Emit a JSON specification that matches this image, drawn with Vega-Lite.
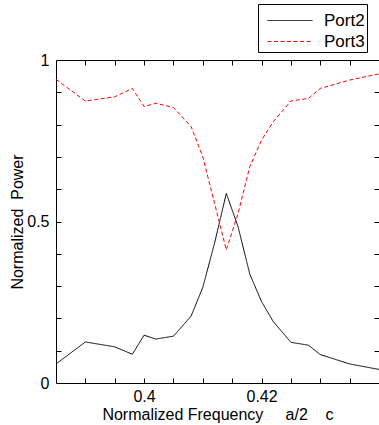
{
  "$schema": "https://vega.github.io/schema/vega-lite/v6.json",
  "width": 323,
  "height": 323,
  "autosize": {"type": "none"},
  "padding": {"left": 56, "top": 60, "right": 0, "bottom": 42},
  "background": "white",
  "config": {
    "view": {"stroke": "black", "strokeWidth": 1},
    "font": "Liberation Sans",
    "axis": {
      "grid": false,
      "domain": false,
      "labelFont": "Liberation Sans",
      "titleFont": "Liberation Sans",
      "labelFontSize": 16,
      "titleFontSize": 16,
      "labelColor": "black",
      "titleColor": "black",
      "titleFontWeight": "normal",
      "tickColor": "black",
      "tickWidth": 1
    },
    "legend": {
      "orient": "none",
      "legendX": 202,
      "legendY": -56,
      "strokeColor": "black",
      "fillColor": "white",
      "padding": 2,
      "rowPadding": 3,
      "symbolType": "M-0.125,0H5.5",
      "symbolSize": 256,
      "symbolStrokeWidth": 1,
      "labelOffset": 47,
      "labelFont": "Liberation Sans",
      "labelFontSize": 17,
      "labelColor": "black",
      "titleFontSize": 5,
      "titlePadding": 1
    }
  },
  "data": {
    "values": [
      {"f": 0.385, "p": 0.059, "s": "Port2"},
      {"f": 0.39, "p": 0.127, "s": "Port2"},
      {"f": 0.395, "p": 0.112, "s": "Port2"},
      {"f": 0.398, "p": 0.089, "s": "Port2"},
      {"f": 0.4, "p": 0.148, "s": "Port2"},
      {"f": 0.402, "p": 0.136, "s": "Port2"},
      {"f": 0.405, "p": 0.145, "s": "Port2"},
      {"f": 0.408, "p": 0.207, "s": "Port2"},
      {"f": 0.41, "p": 0.296, "s": "Port2"},
      {"f": 0.412, "p": 0.433, "s": "Port2"},
      {"f": 0.414, "p": 0.587, "s": "Port2"},
      {"f": 0.416, "p": 0.484, "s": "Port2"},
      {"f": 0.418, "p": 0.337, "s": "Port2"},
      {"f": 0.42, "p": 0.252, "s": "Port2"},
      {"f": 0.422, "p": 0.19, "s": "Port2"},
      {"f": 0.425, "p": 0.126, "s": "Port2"},
      {"f": 0.428, "p": 0.117, "s": "Port2"},
      {"f": 0.43, "p": 0.088, "s": "Port2"},
      {"f": 0.435, "p": 0.059, "s": "Port2"},
      {"f": 0.44, "p": 0.042, "s": "Port2"},
      {"f": 0.385, "p": 0.94, "s": "Port3"},
      {"f": 0.39, "p": 0.873, "s": "Port3"},
      {"f": 0.395, "p": 0.886, "s": "Port3"},
      {"f": 0.398, "p": 0.912, "s": "Port3"},
      {"f": 0.4, "p": 0.856, "s": "Port3"},
      {"f": 0.402, "p": 0.866, "s": "Port3"},
      {"f": 0.405, "p": 0.853, "s": "Port3"},
      {"f": 0.408, "p": 0.794, "s": "Port3"},
      {"f": 0.41, "p": 0.7, "s": "Port3"},
      {"f": 0.412, "p": 0.556, "s": "Port3"},
      {"f": 0.414, "p": 0.412, "s": "Port3"},
      {"f": 0.416, "p": 0.525, "s": "Port3"},
      {"f": 0.418, "p": 0.67, "s": "Port3"},
      {"f": 0.42, "p": 0.752, "s": "Port3"},
      {"f": 0.422, "p": 0.809, "s": "Port3"},
      {"f": 0.425, "p": 0.873, "s": "Port3"},
      {"f": 0.428, "p": 0.881, "s": "Port3"},
      {"f": 0.43, "p": 0.912, "s": "Port3"},
      {"f": 0.435, "p": 0.938, "s": "Port3"},
      {"f": 0.44, "p": 0.957, "s": "Port3"}
    ]
  },
  "layer": [
    {
      "mark": {"type": "line", "strokeWidth": 1},
      "encoding": {
        "x": {
          "field": "f", "type": "quantitative",
          "scale": {"domain": [0.385, 0.44], "nice": false, "zero": false},
          "axis": {"orient": "bottom", "values": [0.39, 0.395, 0.4, 0.405, 0.41, 0.415, 0.42, 0.425, 0.43, 0.435], "labels": false, "tickSize": -5, "title": null}
        },
        "y": {
          "field": "p", "type": "quantitative",
          "scale": {"domain": [0, 1], "nice": false},
          "axis": {"orient": "left", "values": [0.1, 0.2, 0.3, 0.4, 0.5, 0.6, 0.7, 0.8, 0.9], "labels": false, "tickSize": -5, "title": null}
        },
        "color": {
          "field": "s", "type": "nominal",
          "scale": {"domain": ["Port2", "Port3"], "range": ["black", "red"]},
          "legend": {"title": " "}
        },
        "strokeDash": {
          "field": "s", "type": "nominal",
          "scale": {"domain": ["Port2", "Port3"], "range": [[1, 0], [4, 2.5]]},
          "legend": {"title": " "}
        }
      }
    },
    {
      "mark": {"type": "point", "opacity": 0},
      "encoding": {
        "x": {
          "field": "f", "type": "quantitative",
          "axis": {"orient": "bottom", "values": [0.4, 0.42], "format": "~g", "ticks": false, "labelPadding": 5, "titlePadding": 2, "title": "Normalized Frequency\u00a0\u00a0\u00a0\u00a0\u00a0a/2\u00a0\u00a0\u00a0\u00a0c"}
        },
        "y": {
          "field": "p", "type": "quantitative",
          "axis": {"orient": "left", "values": [0, 0.5, 1], "format": "~g", "ticks": false, "labelPadding": 7, "titlePadding": 1, "title": "Normalized\u00a0\u00a0Power"}
        }
      }
    },
    {
      "mark": {"type": "point", "opacity": 0},
      "encoding": {
        "x": {
          "field": "f", "type": "quantitative",
          "axis": {"orient": "top", "values": [0.39, 0.395, 0.4, 0.405, 0.41, 0.415, 0.42, 0.425, 0.43, 0.435], "labels": false, "tickSize": -5, "title": null}
        },
        "y": {
          "field": "p", "type": "quantitative",
          "axis": {"orient": "right", "values": [0.1, 0.2, 0.3, 0.4, 0.5, 0.6, 0.7, 0.8, 0.9], "labels": false, "tickSize": -5, "title": null}
        }
      }
    }
  ],
  "resolve": {"axis": {"x": "independent", "y": "independent"}}
}
